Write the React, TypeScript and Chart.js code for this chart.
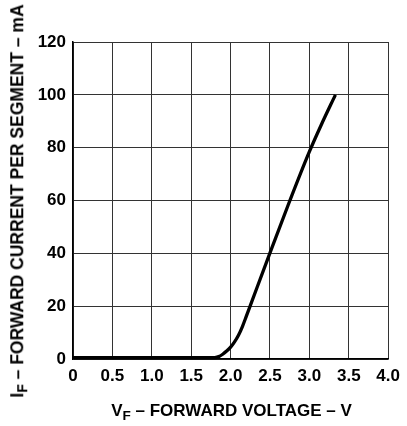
import React, { useEffect, useRef } from "react";
import { Chart, registerables } from "chart.js";

Chart.register(...registerables);

const voltage = [0, 0.5, 1.0, 1.5, 1.75, 1.8, 1.85, 1.9, 1.95, 2.0, 2.05, 2.1, 2.15, 2.2, 2.25, 2.5, 2.75, 3.0, 3.15, 3.33];
const current = [0.5, 0.5, 0.5, 0.5, 0.5, 0.55, 0.9, 1.8, 3.0, 4.5, 6.5, 9.0, 12.3, 16.2, 20.2, 40.2, 59.8, 78.5, 88.6, 100];

const xTicks = [0, 0.5, 1.0, 1.5, 2.0, 2.5, 3.0, 3.5, 4.0];
const xTickLabels = ["0", "0.5", "1.0", "1.5", "2.0", "2.5", "3.0", "3.5", "4.0"];
const yTicks = [0, 20, 40, 60, 80, 100, 120];

const FONT = '"Liberation Sans", Arial, Helvetica, sans-serif';

export default function App() {
  const ref = useRef<HTMLCanvasElement | null>(null);

  useEffect(() => {
    if (!ref.current) return;
    const chart = new Chart(ref.current, {
      type: "line",
      data: {
        datasets: [
          {
            data: voltage.map((v, i) => ({ x: v, y: current[i] })),
            borderColor: "#000",
            borderWidth: 3.3,
            pointRadius: 0,
            cubicInterpolationMode: "monotone",
            fill: false,
            clip: 4,
          },
        ],
      },
      options: {
        animation: false,
        responsive: false,
        devicePixelRatio: 1,
        layout: { padding: { top: 42, right: 16, left: 0, bottom: 0 } },
        plugins: { legend: { display: false }, tooltip: { enabled: false } },
        scales: {
          x: {
            type: "linear",
            min: 0,
            max: 4,
            afterBuildTicks: (s: any) => {
              s.ticks = xTicks.map((v) => ({ value: v }));
            },
            afterFit: (s: any) => {
              s.height = 67;
            },
            ticks: {
              padding: 7,
              color: "#000",
              font: { family: FONT, size: 17, weight: "bold" },
              maxRotation: 0,
              callback: (v: any) => {
                const i = xTicks.indexOf(Number(v));
                return i >= 0 ? xTickLabels[i] : "";
              },
            },
            grid: { color: "#333", lineWidth: 1, drawTicks: false },
            border: { color: "#000", width: 1.5 },
          },
          y: {
            type: "linear",
            min: 0,
            max: 120,
            afterBuildTicks: (s: any) => {
              s.ticks = yTicks.map((v) => ({ value: v }));
            },
            afterFit: (s: any) => {
              s.width = 73;
            },
            ticks: {
              padding: 7,
              color: "#000",
              font: { family: FONT, size: 17, weight: "bold" },
            },
            grid: { color: "#333", lineWidth: 1, drawTicks: false },
            border: { color: "#000", width: 1.5 },
          },
        },
      },
    } as any);
    return () => chart.destroy();
  }, []);

  const titleStyle: React.CSSProperties = {
    position: "absolute",
    fontFamily: FONT,
    fontWeight: "bold",
    fontSize: 17,
    color: "#000",
    whiteSpace: "nowrap",
    lineHeight: 1,
  };
  const subStyle: React.CSSProperties = {
    fontSize: "0.8em",
    position: "relative",
    top: "0.3em",
  };

  return (
    <div style={{ position: "absolute", left: 0, top: 0, width: 407, height: 426, background: "#fff", overflow: "hidden" }}>
      <canvas ref={ref} width={407} height={426} style={{ display: "block" }} />
      <div style={{ ...titleStyle, left: 231.5, top: 410, transform: "translate(-50%, -50%)" }}>
        V<span style={subStyle}>F</span> – FORWARD VOLTAGE – V
      </div>
      <div style={{ ...titleStyle, fontSize: 17.5, left: 18, top: 201, transform: "translate(-50%, -50%) rotate(-90deg)" }}>
        I<span style={subStyle}>F</span> – FORWARD CURRENT PER SEGMENT – mA
      </div>
    </div>
  );
}
